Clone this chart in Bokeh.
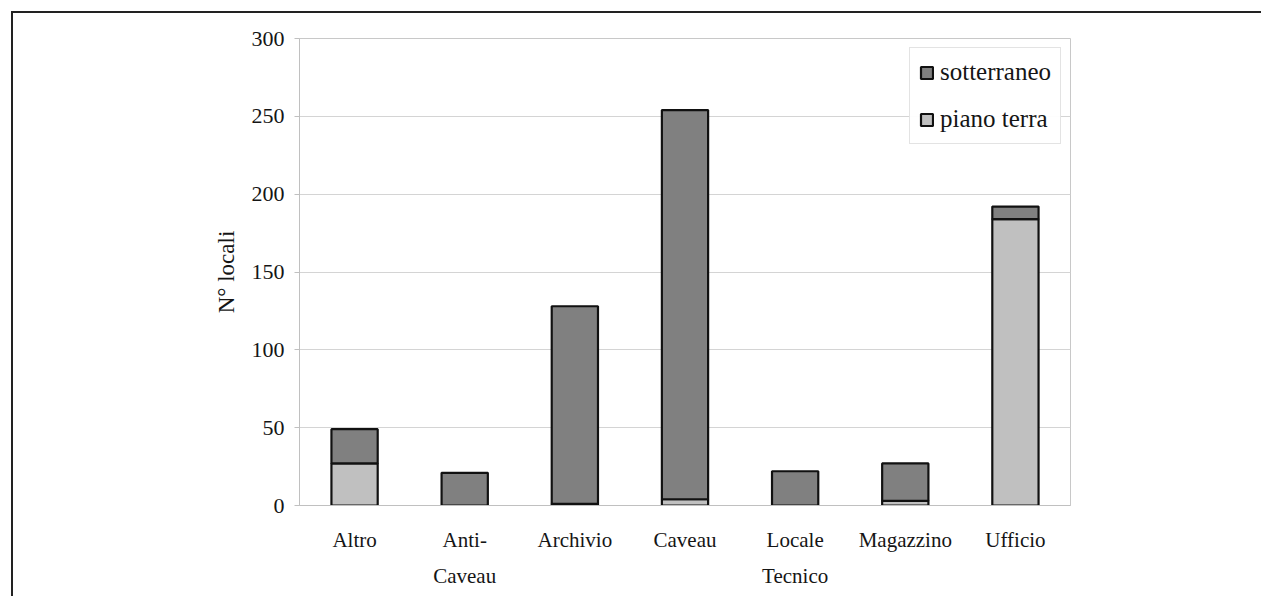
from bokeh.plotting import figure
from bokeh.models import (Range1d, FixedTicker, Legend, LegendItem, CategoricalAxis,
                          CustomJSTickFormatter)
from bokeh.embed import file_html
from bokeh.resources import INLINE

# Room categories and counts per floor
categorie = ["Altro", "Anti-Caveau", "Archivio", "Caveau",
             "Locale Tecnico", "Magazzino", "Ufficio"]
riga1 = ["Altro", "Anti-", "Archivio", "Caveau", "Locale", "Magazzino", "Ufficio"]
riga2 = ["", "Caveau", "", "", "Tecnico", "", ""]
piano_terra = [27, 0, 1, 4, 0, 3, 184]
sotterraneo = [22, 21, 127, 250, 22, 24, 8]
tick_y = [0, 50, 100, 150, 200, 250, 300]

FONT = "Liberation Serif"
TXT = "#151515"


def righe(testi):
    """Tick formatter that prints a chosen line of each category label."""
    return CustomJSTickFormatter(args=dict(m=dict(zip(categorie, testi))),
                                 code="const s = m.get ? m.get(tick) : m[tick]; return s == null ? '' : s;")


# the canvas sits inside a page frame drawn with CSS borders (top and left)
p = figure(x_range=categorie, y_range=Range1d(0, 300),
           width=1250, height=585, output_backend="svg", toolbar_location=None,
           min_border_left=286, min_border_right=193,
           min_border_top=25, min_border_bottom=93,
           styles={"margin-left": "11px", "margin-top": "11px",
                   "border-top": "2px solid #222222",
                   "border-left": "2px solid #222222"})
p.background_fill_color = "white"
p.border_fill_color = "white"
p.outline_line_color = "#c8c8c8"
p.outline_line_width = 1

src = dict(cat=categorie, piano_terra=piano_terra, sotterraneo=sotterraneo)
rs = p.vbar_stack(["piano_terra", "sotterraneo"], x="cat", width=0.42, source=src,
                  color=["#c0c0c0", "#808080"], line_color="#111111", line_width=2.2)

# y axis
p.yaxis.ticker = FixedTicker(ticks=tick_y)
p.yaxis.axis_label = "N° locali"
p.yaxis.axis_label_text_font = FONT
p.yaxis.axis_label_text_font_style = "normal"
p.yaxis.axis_label_text_font_size = "23px"
p.yaxis.axis_label_text_color = TXT
p.yaxis.axis_label_standoff = 10
p.yaxis.major_label_text_font = FONT
p.yaxis.major_label_text_font_size = "22px"
p.yaxis.major_label_text_color = TXT
p.yaxis.major_label_standoff = 10
p.yaxis.axis_line_color = "#c0c0c0"
p.yaxis.major_tick_line_color = "#c0c0c0"
p.yaxis.major_tick_out = 5
p.yaxis.major_tick_in = 0
p.yaxis.minor_tick_line_color = None

# x axis: first line of each category label
xa = p.xaxis[0]
xa.formatter = righe(riga1)
xa.major_label_text_font = FONT
xa.major_label_text_font_size = "21px"
xa.major_label_text_color = TXT
xa.major_label_standoff = 16
xa.axis_line_color = "#c0c0c0"
xa.major_tick_line_color = None
xa.minor_tick_line_color = None

# second axis underneath carrying the second line of the two-line labels
xa2 = CategoricalAxis(formatter=righe(riga2),
                      major_label_text_font=FONT, major_label_text_font_size="21px",
                      major_label_text_color=TXT, major_label_standoff=3,
                      axis_line_color=None, major_tick_line_color=None,
                      minor_tick_line_color=None)
p.add_layout(xa2, "below")

p.xgrid.grid_line_color = None
p.ygrid.grid_line_color = "#d4d4d4"
p.ygrid.grid_line_width = 1

# legend: sotterraneo listed first
legend = Legend(items=[LegendItem(label="sotterraneo", renderers=[rs[1]]),
                       LegendItem(label="piano terra", renderers=[rs[0]])],
                location=(610, 361))
legend.label_text_font = FONT
legend.label_text_font_size = "25px"
legend.label_text_color = TXT
legend.glyph_width = 15
legend.glyph_height = 15
legend.label_standoff = 6
legend.label_height = 30
legend.spacing = 17
legend.padding = 9
legend.margin = 0
legend.border_line_color = "#c8c8c8"
legend.border_line_width = 1
legend.background_fill_color = "white"
p.add_layout(legend)

open("out.html", "w").write(file_html(p, INLINE))
